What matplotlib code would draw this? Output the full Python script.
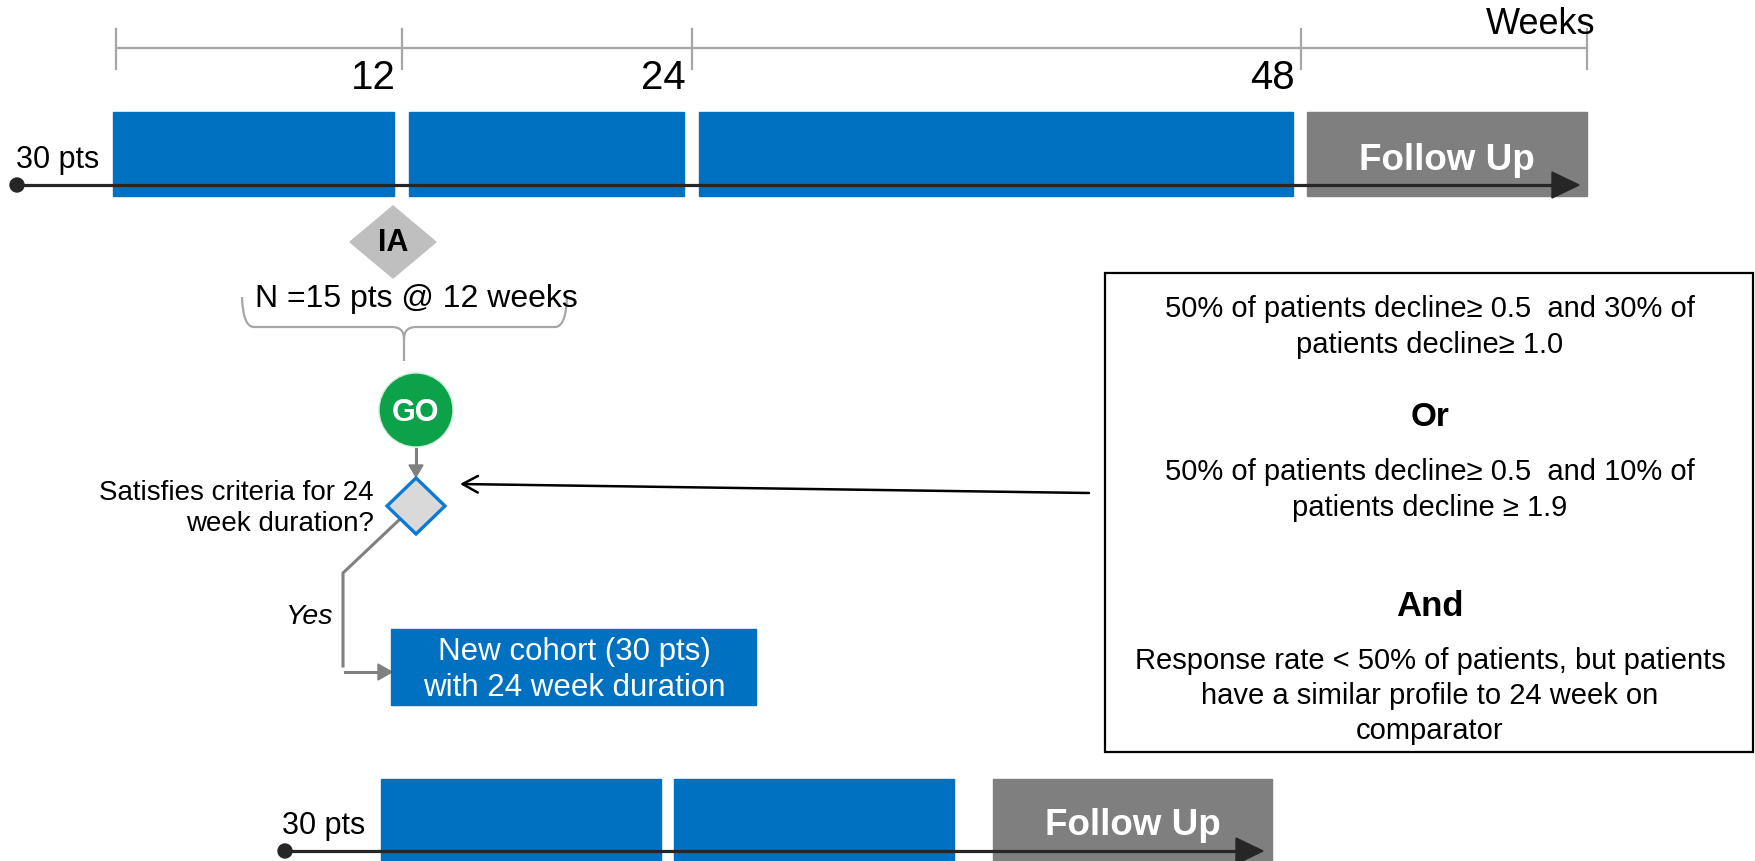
import numpy as np
import matplotlib as mpl
import matplotlib.pyplot as plt
from matplotlib.patches import Rectangle, Polygon, Circle, PathPatch
from matplotlib.path import Path

mpl.rcParams['font.family'] = ['Liberation Sans', 'DejaVu Sans']

BLUE = '#0070C0'
FOLLOW_GREY = '#7F7F7F'
AXIS_GREY = '#A6A6A6'
LINK_GREY = '#808080'
DARK = '#262626'

# study timeline, in weeks
week_ticks = [0, 12, 24, 48, 60]
week_labels = ['', '12', '24', '48', '']
first_phases = [(0, 12), (12, 24), (24, 48)]
first_followup = (48, 60)
second_phases = [(0, 12), (12, 24)]
second_followup = (24, 36)

cohort_pts = 30
ia_pts = 15
ia_week = 12
new_cohort_pts = 30
new_cohort_weeks = 24

criteria_a = '50% of patients decline\u2265 0.5  and 30% of\npatients decline\u2265 1.0'
criteria_b = '50% of patients decline\u2265 0.5  and 10% of\npatients decline \u2265 1.9'
criteria_c = ('Response rate < 50% of patients, but patients\n'
              'have a similar profile to 24 week on\ncomparator')

# pixel layout
tick_px = [116, 402, 692, 1301, 1587]
axis_y = 49
row1_top, row1_bot, row1_line = 113, 197, 186
row2_top, row2_line = 780, 852
row2_x0, row2_ppw, row2_gap, row2_fu_shift = 381, 24.4, 13, 19


def top_x(w):
    return np.interp(w, week_ticks, tick_px)


def bottom_x(w):
    return row2_x0 + w * row2_ppw


def draw_arrow_line(ax, x0, x1, y):
    ax.plot([x0, x1 - 20], [y, y], color=DARK, lw=2.3, solid_capstyle='butt', zorder=5)
    ax.add_patch(Circle((x0, y), 7, color=DARK, zorder=6))
    ax.add_patch(Polygon([(x1 - 27, y - 13), (x1, y), (x1 - 27, y + 13)],
                         closed=True, color=DARK, zorder=6))


def diamond(cx, cy, hw, hh):
    return [(cx - hw, cy), (cx, cy - hh), (cx + hw, cy), (cx, cy + hh)]


fig = plt.figure(figsize=(17.56, 8.62), dpi=100)
ax = fig.add_axes([0, 0, 1, 1])
ax.set_xlim(0, 1756)
ax.set_ylim(862, 0)
ax.axis('off')

# week axis
ax.plot([tick_px[0], tick_px[-1]], [axis_y, axis_y], color=AXIS_GREY, lw=1.6)
for w, lab in zip(week_ticks, week_labels):
    x = top_x(w)
    ax.plot([x, x], [30, 70], color=AXIS_GREY, lw=1.6)
    if lab:
        ax.text(x - 6, 78, lab, fontsize=29, ha='right', va='center')
ax.text(1541, 24, 'Weeks', fontsize=26, ha='center', va='center')

# first cohort
for i, (s, e) in enumerate(first_phases):
    left = top_x(s) - 3 if s == 0 else top_x(s) + 7
    right = top_x(e) - 8
    ax.add_patch(Rectangle((left, row1_top), right - left, row1_bot - row1_top,
                           color=BLUE, zorder=2))
fl = top_x(first_followup[0]) + 6
fr = top_x(first_followup[1])
ax.add_patch(Rectangle((fl, row1_top), fr - fl, row1_bot - row1_top,
                       color=FOLLOW_GREY, zorder=2))
ax.text((fl + fr) / 2, 160, 'Follow Up', fontsize=26.5, fontweight='bold',
        color='white', ha='center', va='center', zorder=7)
ax.text(16, 160, f'{cohort_pts} pts', fontsize=22, ha='left', va='center')
draw_arrow_line(ax, 17, 1579, row1_line)

# interim analysis
ia_x = top_x(ia_week) - 9
ax.add_patch(Polygon(diamond(ia_x, 243, 43, 36), closed=True, color='#BFBFBF'))
ax.text(ia_x, 243, 'IA', fontsize=22, fontweight='bold', ha='center', va='center')
ax.text(416, 299, f'N ={ia_pts} pts @ {ia_week} weeks', fontsize=23,
        ha='center', va='center')

# brace under the IA label
bl, br, bt, bh, bx, bb = 242, 567, 298, 328, 404, 362
brace = Path([(bl, bt), (bl + 1, bh), (bl + 12, bh), (bx - 12, bh), (bx, bh),
              (bx, bh + 12), (bx, bb),
              (br, bt), (br - 1, bh), (br - 12, bh), (bx + 12, bh), (bx, bh),
              (bx, bh + 12)],
             [Path.MOVETO, Path.CURVE3, Path.CURVE3, Path.LINETO, Path.CURVE3,
              Path.CURVE3, Path.LINETO,
              Path.MOVETO, Path.CURVE3, Path.CURVE3, Path.LINETO, Path.CURVE3,
              Path.CURVE3])
ax.add_patch(PathPatch(brace, fill=False, edgecolor=AXIS_GREY, lw=1.6))

# GO decision
ax.add_patch(Circle((416, 411), 37, facecolor='#0BA24A', edgecolor='#CFEBD8', lw=1))
ax.text(416, 413, 'GO', fontsize=22, fontweight='bold', color='white',
        ha='center', va='center')
ax.plot([416, 416], [450, 468], color=LINK_GREY, lw=2.2)
ax.add_patch(Polygon([(409, 466), (416, 478), (423, 466)], closed=True, color=LINK_GREY))

ax.add_patch(Polygon(diamond(416, 507, 29, 28), closed=True, facecolor='#D9D9D9',
                     edgecolor='#0A7AD6', lw=2.4, joinstyle='miter', zorder=4))
ax.text(374, 509, 'Satisfies criteria for 24\nweek duration?', fontsize=20,
        ha='right', va='center', linespacing=1.25)

# yes branch to the new cohort
ax.plot([399, 343, 343], [521, 574, 667], color=LINK_GREY, lw=2.2)
ax.plot([345, 380], [673, 673], color=LINK_GREY, lw=2.2)
ax.add_patch(Polygon([(378, 665), (392, 673), (378, 681)], closed=True, color=LINK_GREY))
ax.text(309, 617, 'Yes', fontsize=20.5, style='italic', ha='center', va='center')

ax.add_patch(Rectangle((391, 630), 365, 76, color=BLUE))
ax.text(574, 670, f'New cohort ({new_cohort_pts} pts)\nwith {new_cohort_weeks} week duration',
        fontsize=22.5, color='white', ha='center', va='center', linespacing=1.22)

# criteria box
ax.add_patch(Rectangle((1105, 274), 648, 479, fill=False, edgecolor='black', lw=1.6))
ax.annotate('', xy=(460, 485), xytext=(1089, 494),
            arrowprops=dict(arrowstyle='->,head_length=1.1,head_width=0.6',
                            color='black', lw=1.8, shrinkA=0, shrinkB=0))
cx = 1430
ax.text(cx, 327, criteria_a, fontsize=21, ha='center', va='center', linespacing=1.32)
ax.text(cx, 418, 'Or', fontsize=24, fontweight='bold', ha='center', va='center')
ax.text(cx, 490, criteria_b, fontsize=21, ha='center', va='center', linespacing=1.32)
ax.text(cx, 607, 'And', fontsize=25, fontweight='bold', ha='center', va='center')
ax.text(cx, 696, criteria_c, fontsize=21, ha='center', va='center', linespacing=1.32)

# second cohort
for s, e in second_phases:
    left = bottom_x(s)
    right = bottom_x(e) - row2_gap
    ax.add_patch(Rectangle((left, row2_top), right - left, 100, color=BLUE, zorder=2))
fl = bottom_x(second_followup[0]) + row2_fu_shift + 7
fr = bottom_x(second_followup[1]) + row2_fu_shift - 6
ax.add_patch(Rectangle((fl, row2_top), fr - fl, 100, color=FOLLOW_GREY, zorder=2))
ax.text((fl + fr) / 2, 826, 'Follow Up', fontsize=26.5, fontweight='bold',
        color='white', ha='center', va='center', zorder=7)
ax.text(282, 826, f'{new_cohort_pts} pts', fontsize=22, ha='left', va='center')
draw_arrow_line(ax, 285, 1263, row2_line)

plt.savefig('out.png', dpi=100)
